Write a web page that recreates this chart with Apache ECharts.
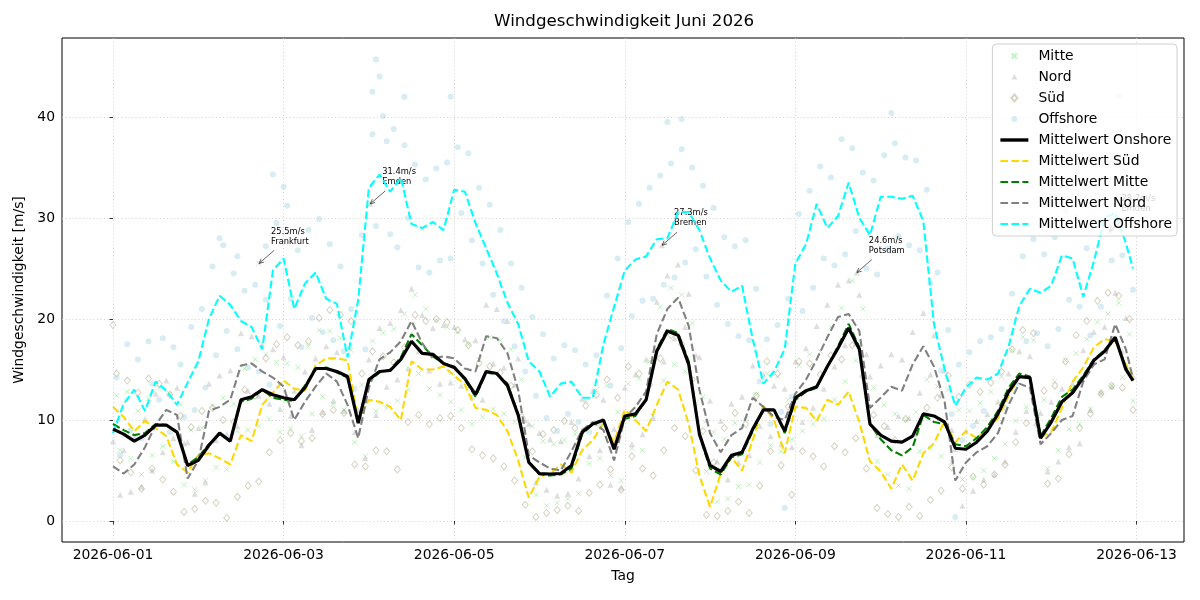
<!DOCTYPE html>
<html>
<head>
<meta charset="utf-8">
<title>Windgeschwindigkeit Juni 2026</title>
<script src="https://cdn.jsdelivr.net/npm/echarts@6/dist/echarts.min.js"></script>
<style>
  html, body { margin: 0; padding: 0; background: #fff; }
  #chart { width: 1200px; height: 600px; }
</style>
</head>
<body>
<div id="chart"></div>
<script>
// Stunden seit 2026-06-01 00:00 (3-stündig, letzter Wert 23 Uhr am 12.)
var hours = [0,3,6,9,12,15,18,21,24,27,30,33,36,39,42,45,48,51,54,57,60,63,66,69,72,75,78,81,84,87,
  90,93,96,99,102,105,108,111,114,117,120,123,126,129,132,135,138,141,144,147,150,153,156,159,162,165,168,171,174,177,
  180,183,186,189,192,195,198,201,204,207,210,213,216,219,222,225,228,231,234,237,240,243,246,249,252,255,258,261,264,267,
  270,273,276,279,282,285,287];

var meanOnshore = [9.1,8.6,7.9,8.5,9.5,9.5,8.8,5.5,6.0,7.5,
  8.7,7.9,12.0,12.3,13.0,12.5,12.2,12.0,13.2,15.1,
  15.1,14.8,14.3,9.7,14.0,14.8,14.9,16.0,17.8,16.6,
  16.5,15.6,15.2,14.1,12.5,14.8,14.6,13.4,10.5,5.8,
  4.7,4.65,4.7,5.5,8.8,9.6,10.0,7.1,10.4,10.6,
  12.0,16.8,18.8,18.4,15.5,8.6,5.5,4.9,6.5,6.8,
  9.1,11.0,11.0,8.9,12.2,12.9,13.3,15.3,17.1,19.1,
  17.0,9.6,8.5,7.9,7.8,8.4,10.6,10.4,9.8,7.2,
  7.1,7.8,8.9,10.6,12.8,14.3,14.2,8.2,9.8,11.8,
  12.7,14.2,15.9,16.8,18.2,15.0,13.9];

var meanSued = [11.3,10.3,8.9,9.9,9.2,8.4,5.6,4.8,6.5,6.7,
  6.2,5.6,8.5,7.9,11.5,12.7,13.9,13.1,12.9,15.4,
  16.1,16.1,15.9,10.0,12.0,11.8,11.3,10.0,15.8,15.0,
  15.0,15.3,14.4,13.5,11.2,11.0,10.5,8.9,6.0,2.3,
  4.4,4.7,5.6,4.8,7.0,8.0,9.7,7.8,11.0,10.0,
  8.9,11.5,13.8,13.0,9.6,4.5,1.4,4.7,6.3,5.0,
  8.0,11.4,10.0,6.7,11.3,11.2,9.9,12.0,11.5,12.8,
  9.8,5.9,4.9,3.2,5.6,4.0,6.7,7.7,9.9,7.8,
  8.9,8.2,9.1,10.2,12.4,14.3,14.1,8.3,8.8,11.2,
  13.8,15.2,17.2,18.0,17.8,15.5,14.0];

var meanMitte = [9.6,9.0,8.5,8.7,9.6,9.5,8.8,5.6,6.3,7.6,
  8.6,8.0,11.8,12.1,13.0,12.2,12.0,11.9,13.4,15.0,
  15.2,14.7,14.2,9.9,13.8,14.7,15.0,16.2,18.5,17.4,
  16.3,15.6,15.3,14.0,12.3,14.7,14.5,13.6,10.6,5.9,
  4.6,4.5,4.6,5.2,8.6,9.6,9.9,7.3,10.1,10.4,
  12.1,17.0,19.0,18.6,15.8,8.5,5.2,4.6,6.3,6.6,
  8.9,11.0,11.0,8.7,12.0,12.8,13.2,15.3,17.3,19.5,
  17.2,9.6,8.1,7.0,6.5,7.3,10.5,9.8,9.6,7.6,
  7.4,8.2,9.3,10.9,13.2,14.6,14.3,8.4,10.2,12.3,
  13.0,14.4,16.0,16.9,18.0,15.2,13.9];

var meanNord = [5.4,4.7,5.6,7.3,9.5,11.0,10.5,4.2,6.0,10.9,
  11.3,12.0,15.4,15.6,14.8,14.2,13.3,10.0,11.8,13.3,
  14.6,13.8,11.5,8.2,13.2,16.0,16.7,17.8,19.8,17.6,
  16.1,16.3,16.1,15.1,14.8,18.3,18.1,16.6,13.0,6.5,
  5.8,5.2,5.0,6.9,9.0,9.8,9.0,6.0,10.2,11.3,
  12.8,18.5,21.0,22.1,19.3,13.0,8.7,6.8,8.5,9.2,
  12.2,11.3,10.3,10.0,12.6,14.0,16.0,18.2,20.2,20.5,
  18.8,11.2,12.2,13.3,12.9,15.5,17.3,15.3,11.8,4.0,
  5.8,6.8,7.4,8.7,11.5,13.6,13.2,7.6,8.7,10.0,
  10.4,13.8,15.5,16.0,19.5,17.0,14.1];

var meanOffshore = [8.7,11.6,13.0,10.9,13.8,12.9,11.5,13.7,15.8,20.0,
  22.3,21.4,19.8,19.2,17.0,24.8,26.0,21.0,23.5,24.6,
  22.0,21.5,16.2,21.9,33.0,34.3,32.6,34.0,29.4,29.0,
  29.6,28.8,32.8,32.6,29.5,27.0,24.5,21.6,19.5,15.8,
  14.8,12.3,13.6,13.8,12.2,12.2,17.5,21.2,24.8,25.9,
  26.2,27.9,28.0,30.6,30.6,28.8,26.0,23.8,22.7,23.3,
  18.0,13.6,14.8,17.0,25.5,27.4,31.4,29.0,30.2,33.5,
  30.0,28.3,32.1,32.1,31.9,32.2,29.7,19.5,15.0,11.4,
  13.2,14.2,14.0,14.6,17.3,21.3,23.0,22.6,23.3,26.3,
  26.0,22.2,25.7,30.0,30.5,27.5,25.0];

// Einzelmessungen der Stationen [Stunde, m/s]
var pointsMitte = [[1,12.4],[2,7.0],[4,12.8],[5,6.2],[7,10.9],[8,4.6],[10,12.1],[11,6.5],[13,13.2],[14,7.4],
  [16,12.6],[17,5.9],[19,11.5],[20,3.6],[22,9.0],[23,3.1],[25,9.2],[26,4.0],[28,11.4],[29,5.3],
  [31,12.2],[32,5.1],[34,11.6],[35,8.9],[37,15.1],[38,9.0],[40,16.0],[41,9.4],[41,25.5],[43,16.5],[44,10.1],
  [46,15.7],[47,8.8],[49,15.6],[50,9.2],[52,15.2],[53,8.4],[55,17.3],[56,10.6],[58,18.9],[59,12.3],
  [61,18.8],[62,11.6],[64,18.1],[65,11.0],[67,16.9],[68,7.8],[70,13.5],[71,6.4],[73,17.8],[74,10.9],
  [76,18.6],[77,11.2],[79,19.0],[80,11.9],[82,20.5],[83,13.0],[85,22.4],[86,14.6],[88,21.0],[89,13.1],
  [91,19.9],[92,12.5],[94,19.2],[95,11.8],[97,18.7],[98,11.0],[100,17.5],[101,9.6],[103,16.0],[104,10.3],
  [106,18.2],[107,11.1],[109,17.9],[110,10.6],[112,17.0],[113,9.8],[115,14.0],[116,6.3],[118,9.4],[119,2.6],
  [121,7.9],[122,1.5],[124,7.6],[125,1.8],[127,8.0],[128,2.2],[130,8.6],[131,2.7],[133,11.9],[134,5.7],
  [136,13.0],[137,6.2],[139,13.4],[140,4.5],[142,10.8],[143,4.0],[145,13.6],[146,7.2],[148,14.1],[149,7.0],
  [151,15.8],[152,10.4],[154,21.2],[155,13.9],[157,23.1],[158,15.5],[160,22.4],[161,14.8],[163,19.6],[164,11.7],
  [166,12.3],[167,4.9],[169,8.8],[170,1.9],[172,8.1],[173,2.2],[175,9.7],[176,3.4],[178,10.1],[179,3.6],
  [181,12.5],[182,5.8],[184,14.6],[185,7.5],[187,14.3],[188,6.9],[190,12.0],[191,8.1],[193,15.4],[194,8.9],
  [196,16.5],[197,9.6],[199,16.8],[200,10.1],[202,19.2],[203,12.0],[205,21.1],[206,13.8],[208,23.8],[209,15.9],
  [211,21.0],[212,12.4],[214,13.2],[215,5.9],[217,11.5],[218,4.6],[220,10.6],[221,3.5],[223,10.0],[224,3.2],
  [226,10.8],[227,6.9],[229,14.0],[230,7.2],[232,13.3],[233,6.4],[235,13.0],[236,5.8],[238,11.0],[239,4.1],
  [241,10.9],[242,4.3],[244,11.7],[245,5.0],[247,12.8],[248,6.2],[250,14.3],[251,7.6],[253,16.9],[254,9.9],
  [256,18.2],[257,11.3],[259,17.9],[260,10.8],[262,12.0],[263,5.2],[265,13.8],[266,7.0],[268,15.9],[269,9.1],
  [271,16.6],[272,9.6],[274,18.0],[275,11.1],[277,19.7],[278,12.6],[280,20.5],[281,13.4],[283,21.6],[284,14.2],
  [286,18.5],[287,11.9]];

var pointsNord = [[0,7.9],[2,2.6],[3,7.0],[5,2.9],[6,8.3],[8,3.4],[9,10.1],[11,5.0],[12,12.6],[14,6.8],
  [15,13.9],[17,8.2],[18,13.2],[20,7.7],[21,7.8],[23,2.7],[24,9.2],[26,3.8],[27,13.6],[29,8.0],
  [30,14.4],[32,8.6],[33,14.9],[35,9.4],[36,18.6],[38,12.9],[39,18.3],[41,12.4],[42,17.5],[44,11.6],
  [45,17.0],[47,11.1],[48,16.2],[50,10.4],[51,12.9],[53,7.5],[54,14.8],[56,9.0],[57,16.1],[59,10.8],
  [60,17.3],[62,11.9],[63,16.7],[65,10.9],[66,14.3],[68,8.8],[69,11.0],[71,6.2],[72,16.0],[72.4,31.4],[74,10.5],
  [75,19.1],[77,13.3],[78,19.6],[80,14.0],[81,20.9],[83,15.1],[84,23.0],[86,16.8],[87,20.4],[89,14.9],
  [90,19.1],[92,13.6],[93,19.4],[95,13.7],[96,19.2],[98,13.4],[99,18.0],[101,12.3],[102,17.9],[104,12.0],
  [105,21.4],[107,15.6],[108,21.0],[110,15.2],[111,19.8],[113,13.5],[114,16.1],[116,10.0],[117,9.6],[119,3.8],
  [120,8.7],[122,3.1],[123,8.1],[125,2.5],[126,7.9],[128,2.7],[129,9.8],[131,4.2],[132,12.1],[134,6.4],
  [135,12.9],[137,7.0],[138,12.0],[140,3.6],[141,9.1],[143,3.3],[144,13.2],[146,7.6],[147,14.5],[149,8.6],
  [150,16.0],[152,10.2],[153,21.7],[154.5,27.3],[155,15.8],[156,24.3],[158,18.1],[159,25.4],[161,19.2],[162,22.5],[164,16.4],
  [165,16.2],[167,10.0],[168,11.9],[170,5.9],[171,9.9],[173,4.1],[174,11.6],[176,5.8],[177,12.3],[179,6.5],
  [180,15.4],[182,9.4],[183,14.5],[185,8.4],[186,13.4],[188,7.6],[189,13.1],[191,7.3],[192,15.8],[194,9.8],
  [195,17.1],[197,11.2],[198,19.3],[200,13.1],[201,21.4],[203,15.3],[204,23.4],[206,17.4],[207,23.8],[209,17.6],
  [209.3,24.6],[210,22.4],[212,16.5],[213,14.3],[215,8.5],[216,15.4],[218,9.3],[219,16.5],[221,10.4],[222,16.0],[224,10.2],
  [225,18.7],[227,12.7],[228,20.6],[230,14.5],[231,18.4],[233,12.5],[234,14.9],[236,9.0],[237,7.1],[239,1.5],
  [240,8.9],[242,3.0],[243,9.9],[245,4.1],[246,10.6],[248,4.6],[249,11.8],[251,5.9],[252,14.6],[254,8.8],
  [255,16.8],[257,10.9],[258,16.3],[260,10.5],[261,10.7],[263,4.9],[264,11.8],[266,5.9],[267,13.1],[269,7.3],
  [270,13.6],[272,7.7],[273,16.9],[275,11.0],[276,18.7],[278,12.8],[279,19.2],[280.4,28.7],[281,13.3],[282,22.6],[284,16.8],
  [285,20.1],[287,14.3]];

var pointsSued = [[0,19.4],[1,14.6],[2,6.0],[4,13.9],[5,4.8],[7,12.7],[8,3.2],[10,14.1],[11,5.2],[13,13.6],[14,4.1],
  [16,12.5],[17,2.9],[19,10.4],[20,0.9],[22,9.3],[23,1.2],[25,10.9],[26,2.0],[28,11.2],[29,1.8],
  [31,10.0],[32,0.3],[34,9.8],[35,2.4],[37,13.0],[38,3.5],[40,12.4],[41,3.9],[43,16.1],[44,6.8],
  [46,17.5],[47,8.0],[49,18.2],[50,8.7],[52,17.4],[53,7.9],[55,17.8],[56,8.2],[58,20.1],[59,10.6],
  [61,20.9],[62,11.0],[64,20.4],[65,10.7],[67,19.8],[68,5.6],[70,14.6],[71,5.4],[73,16.8],[74,7.0],
  [76,16.3],[77,6.9],[79,15.7],[80,5.1],[82,17.2],[83,9.8],[85,20.4],[86,10.5],[88,19.8],[89,9.6],
  [91,20.0],[92,10.2],[94,19.7],[95,10.4],[97,18.9],[98,9.2],[100,17.4],[101,7.1],[103,15.6],[104,6.5],
  [106,15.3],[107,6.2],[109,14.7],[110,5.4],[112,13.4],[113,4.0],[115,10.3],[116,1.6],[118,6.9],[119,0.4],
  [121,8.6],[122,0.8],[124,9.0],[125,1.1],[127,9.9],[128,1.5],[130,9.2],[131,1.0],[133,11.4],[134,2.8],
  [136,12.5],[137,3.6],[139,14.0],[140,5.1],[142,12.2],[143,3.1],[145,15.3],[146,6.4],[148,14.6],[149,5.2],
  [151,13.5],[152,4.5],[154,16.1],[155,7.0],[157,18.4],[158,9.2],[160,17.5],[161,8.4],[163,14.0],[164,5.0],
  [166,8.9],[167,0.6],[169,5.8],[170,0.5],[172,9.2],[173,1.0],[175,10.7],[176,1.9],[178,9.6],[179,0.8],
  [181,12.4],[182,3.5],[184,15.8],[185,6.9],[187,14.6],[188,5.5],[190,11.3],[191,2.6],[193,15.8],[194,6.9],
  [196,15.6],[197,6.4],[199,14.5],[200,5.4],[202,16.4],[203,7.4],[205,16.0],[206,6.8],[208,17.4],[209,8.2],
  [211,14.3],[212,5.2],[214,10.5],[215,1.3],[217,9.4],[218,0.7],[220,8.0],[221,0.4],[223,10.1],[224,1.4],
  [226,8.7],[227,0.5],[229,11.2],[230,2.1],[232,12.2],[233,3.0],[235,14.4],[236,5.3],[238,12.3],[239,3.2],
  [241,13.5],[242,4.4],[244,12.8],[245,3.6],[247,13.7],[248,4.6],[250,14.8],[251,5.6],[253,17.0],[254,7.8],
  [256,18.9],[257,9.7],[259,18.6],[260,9.5],[262,12.9],[263,3.7],[265,13.4],[266,4.2],[268,15.8],[269,6.6],
  [271,18.4],[272,9.2],[274,19.8],[275,10.6],[277,21.8],[278,12.6],[280,22.6],[281,13.4],[283,22.3],[284,13.2],
  [286,20.0],[287,11.0]];

var pointsOffshore = [[1,14.2],[2,6.5],[4,17.5],[5,9.0],[7,16.0],[8,8.2],[10,17.8],[11,13.6],[13,12.0],[14,18.1],
  [16,8.8],[17,17.2],[19,15.5],[20,10.3],[22,19.2],[23,11.0],[25,21.0],[26,13.2],[28,25.2],[29,16.4],[30,28.0],
  [31,27.3],[32,18.8],[34,24.5],[35,17.0],[35,26.2],[37,22.8],[38,15.2],[40,23.4],[41,14.8],[43,21.9],[44,13.5],[43,27.2],
  [46,29.5],[47,19.3],[45,34.3],[49,31.2],[50,22.0],[48,33.1],[52,26.8],[53,17.2],[55,28.8],[56,20.1],[58,29.9],[59,18.7],
  [61,27.4],[62,17.9],[64,25.2],[65,16.8],[67,21.0],[68,13.1],[70,28.3],[71,17.0],
  [73,42.5],[74,29.2],[74,45.7],[75,44.0],[73,38.3],[76,40.1],[77,37.6],[78,28.4],[79,38.8],[80,27.1],
  [82,37.2],[83,30.0],[82,42.0],[85,35.3],[86,25.1],[88,33.8],[89,24.6],[91,34.9],[92,25.8],[94,35.5],[95,26.0],[95,42.0],
  [97,37.0],[98,30.5],[100,36.4],[101,27.8],[103,33.0],[104,25.5],[106,31.3],[107,22.4],[109,28.8],[110,19.8],
  [112,25.5],[113,17.3],[115,23.1],[116,14.8],[118,20.2],[119,12.4],[121,18.5],[122,10.2],[124,16.1],[125,8.9],
  [127,17.4],[128,10.6],[130,16.9],[131,9.8],[133,15.5],[134,8.8],[136,16.4],[137,9.5],[139,22.3],[140,13.4],
  [142,26.0],[143,17.1],[145,29.6],[146,20.3],[148,31.4],[149,21.8],[151,33.0],[152,22.0],[154,34.2],[155,23.4],[156,39.5],
  [157,35.4],[158,24.1],[160,36.8],[161,25.6],[160,39.8],[163,35.0],[164,26.9],[166,33.2],[167,24.2],[169,31.0],[170,21.4],
  [172,28.1],[173,19.5],[175,27.2],[176,18.3],[178,27.8],[179,17.9],[181,23.0],[182,13.8],[184,18.0],[185,9.6],
  [187,19.4],[188,10.8],[189,1.3],[190,22.0],[191,12.3],[193,30.4],[194,20.8],[196,32.7],[197,23.1],[199,35.1],[200,26.0],
  [202,34.0],[203,25.3],[205,37.8],[206,26.4],[208,36.9],[209,28.7],[211,34.5],[212,25.0],[214,33.7],[215,24.4],
  [217,36.2],[218,27.0],[219,40.4],[220,37.4],[221,28.2],[223,36.0],[224,27.3],[226,35.7],[227,26.8],[229,32.8],[230,23.5],
  [232,24.6],[233,14.9],[235,18.9],[236,10.6],[237,0.4],[238,15.5],[239,8.0],[241,16.7],[242,9.4],[244,17.8],[245,10.9],
  [247,18.2],[248,10.1],[250,19.0],[251,11.2],[253,22.5],[254,13.6],[256,26.2],[257,17.8],[259,27.9],[260,18.6],
  [262,26.4],[263,17.3],[265,28.1],[266,19.0],[268,30.8],[269,21.9],[271,30.1],[272,21.2],[274,27.0],[275,18.4],
  [277,31.3],[278,21.2],[280,35.6],[281,25.8],[283,36.0],[284,26.3],[283,42.1],[286,31.2],[287,22.9]];

// Maxima mit Stationsnamen
var annHours = [41.1, 72.4, 154.5, 209.3, 280.4];
var annValues = [25.5, 31.4, 27.3, 24.6, 28.7];
var annStations = ['Frankfurt', 'Emden', 'Bremen', 'Potsdam', 'Emden'];

var dayTicks = [0, 48, 96, 144, 192, 240, 288];
var valueTicks = [0, 10, 20, 30, 40];

var FONT = 'DejaVu Sans';
var DASH = [7.7, 3.3];

// Legenden-Symbole (28x14 Rahmen, damit die Marker klein bleiben)
var ICON_X = 'path://M0,0M28,14M11.5,4.5L16.5,9.5M11.5,9.5L16.5,4.5';
var ICON_TRI = 'path://M0,0M28,14M14,4L17,9.5L11,9.5Z';
var ICON_DIA = 'path://M0,0M28,14M14,3.5L17,7L14,10.5L11,7Z';
var ICON_DOT = 'path://M0,0M28,14M17,7A3,3,0,1,1,11,7A3,3,0,1,1,17,7Z';
var ICON_SOLID = 'path://M0,0M28,14M0,5.3L28,5.3L28,8.7L0,8.7Z';
var ICON_DASH = 'path://M0,0M28,14M0,6L7.7,6L7.7,8L0,8ZM11,6L18.7,6L18.7,8L11,8ZM22,6L28,6L28,8L22,8Z';

function pairs(xs, ys) {
  var out = [];
  for (var i = 0; i < xs.length; i++) {
    out.push([xs[i], ys[i]]);
  }
  return out;
}

function dayLabel(h) {
  var d = new Date(Date.UTC(2026, 5, 1) + h * 3600000);
  return d.toISOString().slice(0, 10);
}

function meanLine(name, values, color, width, dashed) {
  return {
    name: name,
    type: 'line',
    data: pairs(hours, values),
    symbol: 'none',
    showSymbol: false,
    silent: true,
    z: 3,
    itemStyle: { color: color },
    lineStyle: { color: color, width: width, type: dashed ? DASH : 'solid' }
  };
}

var annData = pairs(annHours, annValues);

var chart = echarts.init(document.getElementById('chart'), null, { renderer: 'canvas' });

var gridLine = { show: true, lineStyle: { color: '#c8c8c8', width: 0.8, type: [1, 2.5] } };

var option = {
  animation: false,
  backgroundColor: '#fff',
  textStyle: { fontFamily: FONT },
  title: {
    text: 'Windgeschwindigkeit Juni 2026',
    left: 494,
    top: 13,
    padding: 0,
    textStyle: { fontFamily: FONT, fontSize: 16.7, fontWeight: 'normal', color: '#000' }
  },
  grid: {
    left: 62, right: 16, top: 38, bottom: 58,
    show: true, borderColor: '#000', borderWidth: 1, backgroundColor: 'transparent'
  },
  legend: {
    orient: 'vertical',
    right: 23,
    top: 44,
    itemWidth: 28,
    itemHeight: 14,
    itemGap: 5,
    padding: [4, 5, 4, 7],
    backgroundColor: 'rgba(255,255,255,0.8)',
    borderColor: '#d0d0d0',
    borderWidth: 1,
    borderRadius: 4,
    textStyle: { fontFamily: FONT, fontSize: 13.9, color: '#000', lineHeight: 16, padding: [0, 0, 0, 5] },
    data: [
      { name: 'Mitte', icon: ICON_X },
      { name: 'Nord', icon: ICON_TRI },
      { name: 'Süd', icon: ICON_DIA },
      { name: 'Offshore', icon: ICON_DOT },
      { name: 'Mittelwert Onshore', icon: ICON_SOLID },
      { name: 'Mittelwert Süd', icon: ICON_DASH },
      { name: 'Mittelwert Mitte', icon: ICON_DASH },
      { name: 'Mittelwert Nord', icon: ICON_DASH },
      { name: 'Mittelwert Offshore', icon: ICON_DASH }
    ]
  },
  xAxis: {
    type: 'value',
    min: -14.35,
    max: 301.35,
    name: 'Tag',
    nameLocation: 'middle',
    nameGap: 27,
    nameTextStyle: { fontFamily: FONT, fontSize: 13.9, color: '#000' },
    axisLine: { show: false },
    axisTick: { show: true, customValues: dayTicks, length: 3.5, lineStyle: { color: '#000', width: 0.8 } },
    axisLabel: { customValues: dayTicks, formatter: dayLabel, margin: 6, fontFamily: FONT, fontSize: 13.9, color: '#000' },
    splitLine: Object.assign({ customValues: dayTicks }, gridLine)
  },
  yAxis: {
    type: 'value',
    min: -2.08,
    max: 47.82,
    name: 'Windgeschwindigkeit [m/s]',
    nameLocation: 'middle',
    nameRotate: 90,
    nameGap: 32,
    nameTextStyle: { fontFamily: FONT, fontSize: 13.9, color: '#000' },
    axisLine: { show: false },
    axisTick: { show: true, customValues: valueTicks, length: 3.5, lineStyle: { color: '#000', width: 0.8 } },
    axisLabel: { customValues: valueTicks, margin: 7, fontFamily: FONT, fontSize: 13.9, color: '#000' },
    splitLine: Object.assign({ customValues: valueTicks }, gridLine)
  },
  series: [
    {
      name: 'Mitte', type: 'scatter', data: pointsMitte, silent: true,
      symbol: 'path://M0,0L10,10M0,10L10,0', symbolSize: 5,
      itemStyle: { color: 'rgba(0,0,0,0)', borderColor: 'rgba(130,230,130,0.65)', borderWidth: 1 }
    },
    {
      name: 'Nord', type: 'scatter', data: pointsNord, silent: true,
      symbol: 'triangle', symbolSize: 6,
      itemStyle: { color: 'rgba(180,180,180,0.55)' }
    },
    {
      name: 'Süd', type: 'scatter', data: pointsSued, silent: true,
      symbol: 'diamond', symbolSize: [6, 7],
      itemStyle: { color: 'rgba(0,0,0,0)', borderColor: 'rgba(165,155,115,0.55)', borderWidth: 1 }
    },
    {
      name: 'Offshore', type: 'scatter', data: pointsOffshore, silent: true,
      symbol: 'circle', symbolSize: 6,
      itemStyle: { color: 'rgba(173,216,230,0.6)' }
    },
    meanLine('Mittelwert Süd', meanSued, '#FFD700', 2.1, true),
    meanLine('Mittelwert Mitte', meanMitte, '#008000', 2.1, true),
    meanLine('Mittelwert Nord', meanNord, '#808080', 2.1, true),
    meanLine('Mittelwert Offshore', meanOffshore, '#00FFFF', 2.1, true),
    meanLine('Mittelwert Onshore', meanOnshore, '#000000', 3.2, false),
    {
      type: 'custom',
      silent: true,
      z: 3,
      data: annData,
      encode: { x: 0, y: 1 },
      renderItem: function (params, api) {
        var tip = api.coord([api.value(0), api.value(1)]);
        var x = tip[0], y = tip[1];
        var sx = x + 15, sy = y - 13;
        var ang = Math.atan2(sy - y, sx - x);
        var hl = 5, hw = 0.45;
        var i = params.dataIndex;
        return {
          type: 'group',
          children: [
            { type: 'line', shape: { x1: sx, y1: sy, x2: x, y2: y }, style: { stroke: '#222', lineWidth: 0.7 } },
            {
              type: 'polyline',
              shape: { points: [
                [x + hl * Math.cos(ang + hw), y + hl * Math.sin(ang + hw)],
                [x, y],
                [x + hl * Math.cos(ang - hw), y + hl * Math.sin(ang - hw)]
              ] },
              style: { stroke: '#222', fill: null, lineWidth: 0.7 }
            },
            {
              type: 'text',
              x: x + 12,
              y: y - 37,
              style: {
                text: annValues[i].toFixed(1) + 'm/s\n' + annStations[i],
                fontFamily: FONT, fontSize: 8.3, lineHeight: 10, fill: '#000'
              }
            }
          ]
        };
      }
    }
  ]
};

chart.setOption(option);
</script>
</body>
</html>
